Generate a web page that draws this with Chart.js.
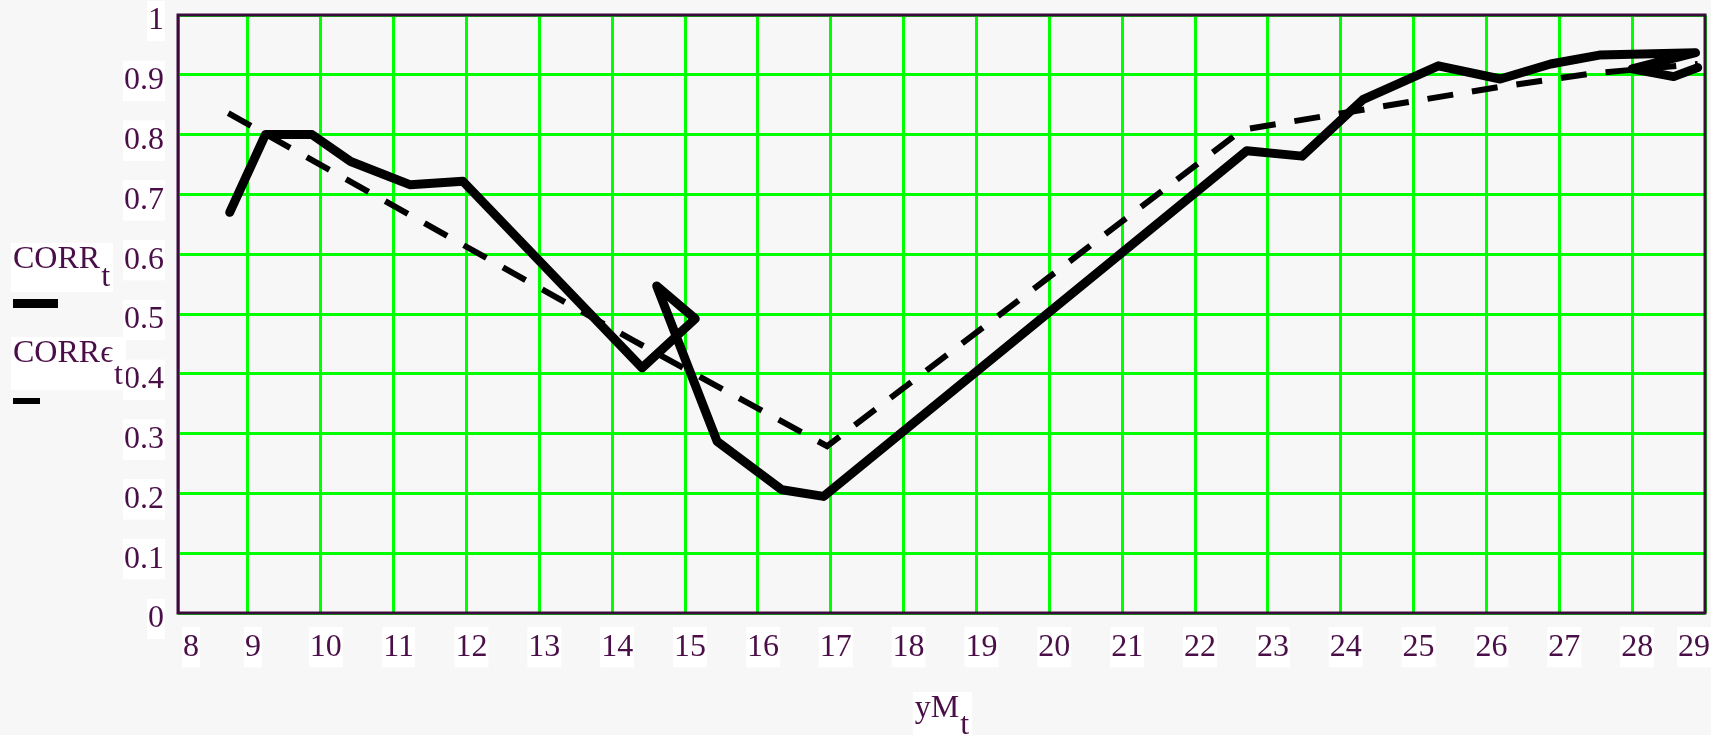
<!DOCTYPE html>
<html>
<head>
<meta charset="utf-8">
<title>CORR vs yM</title>
<script src="https://cdn.jsdelivr.net/npm/chart.js@4.4.1/dist/chart.umd.min.js"></script>
<style>
	html, body { margin: 0; padding: 0; background: #f7f7f7; overflow: hidden; }
	#wrap { width: 1711px; height: 735px; position: relative; }
</style>
</head>
<body>
<div id="wrap"><canvas id="corrChart"></canvas></div>
<script>
// yM_t on the x axis, the two correlation traces on the y axis
const corrX = [8.75, 9.24, 9.88, 10.41, 11.23, 11.95, 14.41, 15.14, 14.61, 15.44, 16.33, 16.90, 22.71, 23.47, 24.31, 25.34, 26.19, 26.88, 27.55, 28.87, 28.00, 28.57, 28.90];
const corrY = [0.670, 0.800, 0.800, 0.755, 0.716, 0.722, 0.410, 0.492, 0.547, 0.287, 0.206, 0.195, 0.773, 0.764, 0.859, 0.915, 0.893, 0.918, 0.933, 0.937, 0.910, 0.897, 0.912];

const corrEpsX = [8.73, 14.30, 16.95, 22.65, 26.19, 27.50, 28.90];
const corrEpsY = [0.836, 0.455, 0.279, 0.808, 0.880, 0.903, 0.918];

const seriesNames = ["CORR", "CORR\u03F5"];
const seriesSub = "t";
const axisTitle = "yM";

const xMin = 8.04;
const xMax = 29;
const xTicks = [8, 9, 10, 11, 12, 13, 14, 15, 16, 17, 18, 19, 20, 21, 22, 23, 24, 25, 26, 27, 28, 29];
const yTicks = [0, 0.1, 0.2, 0.3, 0.4, 0.5, 0.6, 0.7, 0.8, 0.9, 1];
const yTickLabels = ["0", "0.1", "0.2", "0.3", "0.4", "0.5", "0.6", "0.7", "0.8", "0.9", "1"];

const fontFamily = "'Liberation Serif', 'DejaVu Serif', serif";
const fontSize = 32;
const textColor = "#4a0f48";
const frameColor = "#3c0a3c";
const gridColor = "#00ff00";

function toPoints(xs, ys) {
	return xs.map((x, i) => ({ x: x, y: ys[i] }));
}

// draws text followed by a lowered subscript, on a white box
function drawSubText(ctx, x, y, main, sub, subDrop) {
	ctx.font = fontSize + "px " + fontFamily;
	const w = ctx.measureText(main).width;
	const ws = ctx.measureText(sub).width;
	ctx.fillStyle = "#ffffff";
	ctx.fillRect(x - 2, y - 25, w + ws + 6, 31 + subDrop);
	ctx.fillStyle = textColor;
	ctx.textAlign = "left";
	ctx.textBaseline = "alphabetic";
	ctx.fillText(main, x, y);
	ctx.fillText(sub, x + w + 1, y + subDrop);
	return w + ws;
}

const frameAndLabels = {
	id: "frameAndLabels",
	beforeDatasetsDraw(chart) {
		const { ctx, chartArea: a } = chart;
		ctx.save();
		ctx.strokeStyle = frameColor;
		ctx.lineWidth = 3;
		ctx.strokeRect(a.left, a.top, a.right - a.left, a.bottom - a.top);
		ctx.restore();
	},
	afterDraw(chart) {
		const { ctx, chartArea: a } = chart;
		ctx.save();

		// trace labels on the left, each with a sample of its line
		const rows = [
			{ y: 268, drop: 18, barY: 303.5, barLen: 45 },
			{ y: 362, drop: 22, barY: 401, barLen: 27 }
		];
		rows.forEach((r, i) => {
			drawSubText(ctx, 13, r.y, seriesNames[i], seriesSub, r.drop);
			const ds = chart.data.datasets[i];
			ctx.strokeStyle = ds.borderColor;
			ctx.lineWidth = ds.borderWidth;
			ctx.lineCap = "butt";
			ctx.setLineDash([]);
			ctx.beginPath();
			ctx.moveTo(13, r.barY);
			ctx.lineTo(13 + r.barLen, r.barY);
			ctx.stroke();
		});

		// x axis title
		ctx.font = fontSize + "px " + fontFamily;
		const tw = ctx.measureText(axisTitle + seriesSub).width;
		drawSubText(ctx, (a.left + a.right) / 2 - tw / 2, 717, axisTitle, seriesSub, 17);
		ctx.restore();
	}
};

const ctx = document.getElementById("corrChart").getContext("2d");
new Chart(ctx, {
	type: "line",
	data: {
		datasets: [
			{
				label: "CORR_t",
				data: toPoints(corrX, corrY),
				borderColor: "#000000",
				borderWidth: 9,
				pointRadius: 0,
				tension: 0,
				borderJoinStyle: "round",
				borderCapStyle: "round"
			},
			{
				label: "CORR\u03F5_t",
				data: toPoints(corrEpsX, corrEpsY),
				borderColor: "#000000",
				borderWidth: 6,
				borderDash: [26, 19],
				pointRadius: 0,
				tension: 0,
				borderCapStyle: "butt"
			}
		]
	},
	options: {
		responsive: true,
		maintainAspectRatio: false,
		animation: false,
		layout: { padding: { left: 0, right: 6, top: 15, bottom: 0 } },
		plugins: {
			legend: { display: false },
			tooltip: { enabled: false }
		},
		scales: {
			x: {
				type: "linear",
				min: xMin,
				max: xMax,
				afterBuildTicks: (s) => {
					s.ticks = xTicks.map(v => ({ value: Math.min(Math.max(v, xMin), xMax) }));
				},
				afterFit: (s) => {
					s.height = 122;
					s.paddingLeft = 0;
					s.paddingRight = 0;
				},
				grid: { color: gridColor, lineWidth: 3, drawTicks: false },
				border: { display: false },
				ticks: {
					autoSkip: false,
					maxRotation: 0,
					padding: 15,
					labelOffset: 5,
					align: "inner",
					color: textColor,
					font: { family: fontFamily, size: fontSize },
					showLabelBackdrop: true,
					backdropColor: "#ffffff",
					backdropPadding: 1,
					callback: (v, i) => String(xTicks[i])
				}
			},
			y: {
				type: "linear",
				min: 0,
				max: 1,
				afterBuildTicks: (s) => {
					s.ticks = yTicks.map(v => ({ value: v }));
				},
				afterFit: (s) => {
					s.width = 178;
					s.paddingTop = 0;
					s.paddingBottom = 0;
				},
				grid: { color: gridColor, lineWidth: 3, drawTicks: false },
				border: { display: false },
				ticks: {
					autoSkip: false,
					padding: 14,
					labelOffset: 6,
					color: textColor,
					font: { family: fontFamily, size: fontSize },
					showLabelBackdrop: true,
					backdropColor: "#ffffff",
					backdropPadding: 1,
					callback: (v, i) => yTickLabels[i]
				}
			}
		}
	},
	plugins: [frameAndLabels]
});
</script>
</body>
</html>
